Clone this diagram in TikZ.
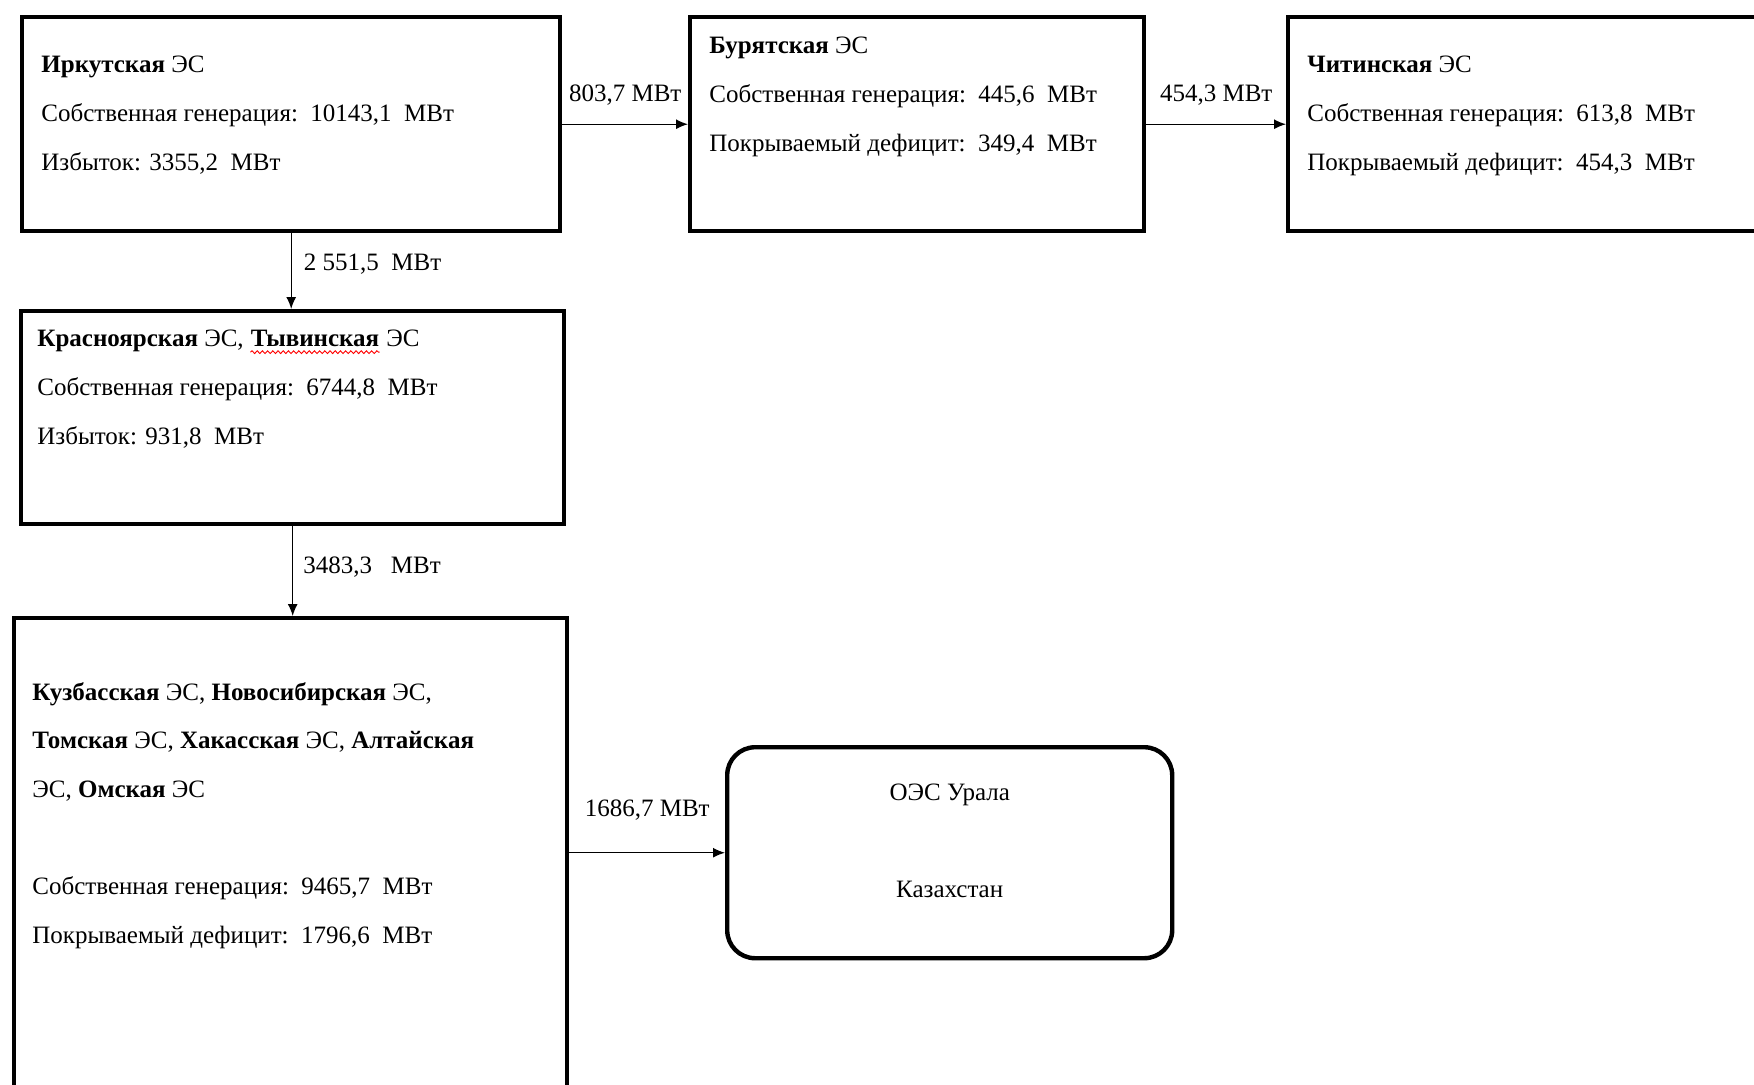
\documentclass[tikz,border=0pt]{standalone}
\usepackage{fontspec}
\setmainfont{Liberation Serif}
\usetikzlibrary{arrows.meta,decorations.pathmorphing}
\newcommand\spellwave[1]{\tikz[baseline=(sw.base),x=1cm,y=1cm]{\node[inner sep=0pt,anchor=base] (sw) at (0,0) {#1};
  \draw[red, line width=0.45pt, decorate, decoration={snake, amplitude=0.7pt, segment length=2.6pt}]
    ([yshift=-2.6pt]sw.base west) -- ([yshift=-2.6pt]sw.base east);}}
\tikzset{
  esbox/.style={draw, line width=2.2pt, anchor=north west, inner sep=0pt},
  estext/.style={anchor=north west, align=left, inner sep=0pt, font=\fontsize{12.5}{24.3}\selectfont},
  flow/.style={-{Latex[length=6pt,width=5pt]}, line width=0.7pt},
  flowlabel/.style={font=\fontsize{12.5}{15}\selectfont, inner sep=2pt}
}
\begin{document}
\begin{tikzpicture}[x=0.5pt,y=-0.5pt]
            \useasboundingbox (0,0) rectangle (1754,1084);
            \clip (0,0) rectangle (1754,1084);
            \node[esbox, minimum width=269pt, minimum height=107pt] (irk) at (20,15) {};
            \node[esbox, minimum width=227pt, minimum height=107pt] (bur) at (688,15) {};
            \node[esbox, minimum width=260pt, minimum height=107pt] (chi) at (1286,15) {};
            \node[esbox, minimum width=271.5pt, minimum height=106.5pt] (kras) at (19,309) {};
            \node[esbox, minimum width=276.5pt, minimum height=260pt] (kuz) at (12,616) {};
            \node[esbox, rounded corners=14pt, minimum width=222.5pt, minimum height=105.5pt, align=center, text depth=12pt,
                  font=\fontsize{12.5}{24.3}\selectfont] (ural) at (725,745) {ОЭС Урала\\[24.2pt]Казахстан};
            \node[estext] (irktext) at ([shift={(21,41)}]irk.north west)
                {\textbf{Иркутская} ЭС\\ Собственная генерация:\ \ 10143,1\ \ МВт\\ Избыток: 3355,2\ \ МВт};
            \node[estext] (burtext) at ([shift={(21,22)}]bur.north west)
                {\textbf{Бурятская} ЭС\\ Собственная генерация:\ \ 445,6\ \ МВт\\ Покрываемый дефицит:\ \ 349,4\ \ МВт};
            \node[estext] (chitext) at ([shift={(21,41)}]chi.north west)
                {\textbf{Читинская} ЭС\\ Собственная генерация:\ \ 613,8\ \ МВт\\ Покрываемый дефицит:\ \ 454,3\ \ МВт};
            \node[estext] (krastext) at ([shift={(18,21)}]kras.north west)
                {\textbf{Красноярская} ЭС, \spellwave{\textbf{Тывинская}} ЭС\\ Собственная генерация:\ \ 6744,8\ \ МВт\\ Избыток: 931,8\ \ МВт};
            \node[estext] (kuztext) at ([shift={(20,66)}]kuz.north west)
                {\textbf{Кузбасская} ЭС, \textbf{Новосибирская} ЭС,\\ \textbf{Томская} ЭС, \textbf{Хакасская} ЭС, \textbf{Алтайская}\\ ЭС, \textbf{Омская} ЭС\\[24.3pt] Собственная генерация:\ \ 9465,7\ \ МВт\\ Покрываемый дефицит:\ \ 1796,6\ \ МВт};
            \draw[flow] (irk.east) -- (bur.west) node[flowlabel, midway, above=7pt] {803,7 МВт};
            \draw[flow] (bur.east) -- (chi.west) node[flowlabel, midway, above=7pt] {454,3 МВт};
            \draw[flow] (irk.south) -- (irk.south |- kras.north) node[flowlabel, pos=0.4, right=4pt] {2 551,5\ \ МВт};
            \draw[flow] (kras.south) -- (kras.south |- kuz.north) node[flowlabel, pos=0.45, right=3pt] {3483,3\ \ \ МВт};
            \draw[flow] (kuz.east |- ural.west) -- (ural.west) node[flowlabel, midway, above=14pt] {1686,7 МВт};
\end{tikzpicture}
\end{document}
